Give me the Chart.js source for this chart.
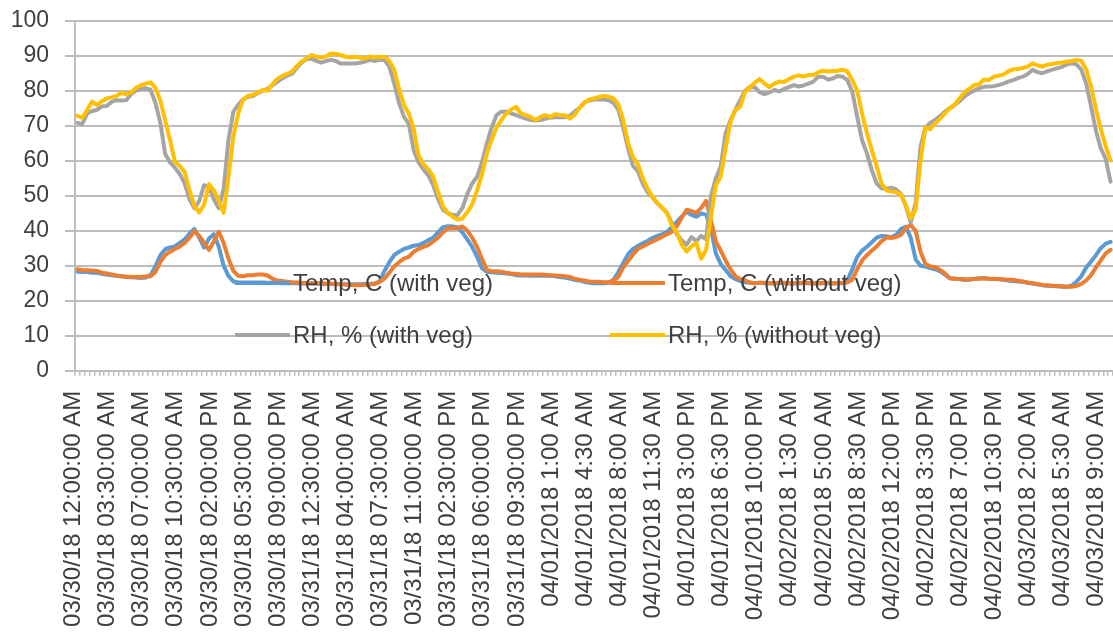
<!DOCTYPE html>
<html><head><meta charset="utf-8">
<script src="https://cdn.jsdelivr.net/npm/chart.js@4.4.0/dist/chart.umd.min.js"></script>
<style>html,body{margin:0;padding:0;background:#fff;} canvas{display:block;}</style>
</head><body>
<canvas id="c" width="1113" height="635"></canvas>
<script>
// ---------- DATA ----------
const tickLabels = [
 '03/30/18 12:00:00 AM','03/30/18 03:30:00 AM','03/30/18 07:00:00 AM','03/30/18 10:30:00 AM',
 '03/30/18 02:00:00 PM','03/30/18 05:30:00 PM','03/30/18 09:00:00 PM','03/31/18 12:30:00 AM',
 '03/31/18 04:00:00 AM','03/31/18 07:30:00 AM','03/31/18 11:00:00 AM','03/31/18 02:30:00 PM',
 '03/31/18 06:00:00 PM','03/31/18 09:30:00 PM','04/01/2018 1:00 AM','04/01/2018 4:30 AM',
 '04/01/2018 8:00 AM','04/01/2018 11:30 AM','04/01/2018 3:00 PM','04/01/2018 6:30 PM',
 '04/01/2018 10:00 PM','04/02/2018 1:30 AM','04/02/2018 5:00 AM','04/02/2018 8:30 AM',
 '04/02/2018 12:00 PM','04/02/2018 3:30 PM','04/02/2018 7:00 PM','04/02/2018 10:30 PM',
 '04/03/2018 2:00 AM','04/03/2018 5:30 AM','04/03/2018 9:00 AM'
];
const labelEvery = 7;

const tempWithVeg = [
 28.3,28.2,28.2,28.0,28.0,27.7,27.5,27.3,27.1,27.0,
 26.8,26.7,26.6,26.5,26.6,27.3,29.8,33.0,34.7,35.2,
 35.5,36.5,37.5,39.2,40.5,38.0,35.2,37.8,39.0,35.5,
 30.0,27.0,25.5,25.2,25.2,25.2,25.2,25.2,25.2,25.1,
 25.1,25.1,25.0,25.0,25.0,25.0,24.9,24.9,24.9,24.9,
 24.8,24.8,24.8,24.8,24.7,24.7,24.7,24.7,24.7,24.8,
 24.8,24.9,25.5,28.5,31.0,33.0,34.0,34.8,35.2,35.7,
 35.9,36.5,37.3,38.0,39.5,41.0,41.3,41.2,40.9,39.5,
 37.5,35.4,32.6,29.3,28.3,28.1,28.0,27.9,27.8,27.6,
 27.3,27.2,27.2,27.1,27.1,27.1,27.1,27.1,27.0,26.8,
 26.6,26.3,26.0,25.8,25.4,25.1,25.0,25.0,25.0,25.1,
 26.0,28.2,30.8,33.3,34.8,35.6,36.4,37.1,37.9,38.5,
 39.0,39.6,41.1,42.5,44.0,45.4,44.5,44.0,44.9,44.6,
 40.5,33.5,30.5,28.8,27.0,26.2,25.6,25.3,25.1,25.0,
 25.1,25.0,25.0,24.9,25.0,25.0,24.9,24.9,25.0,25.0,
 25.0,24.9,24.9,25.0,25.0,24.9,24.9,25.0,25.8,29.0,
 32.5,34.3,35.4,36.7,38.0,38.5,38.4,38.1,38.8,40.5,
 41.1,38.0,31.8,30.0,29.8,29.3,29.0,28.4,27.5,26.4,
 26.3,26.2,25.9,26.0,26.2,26.4,26.5,26.3,26.2,26.1,
 26.0,25.8,25.6,25.5,25.4,25.1,24.9,24.7,24.4,24.3,
 24.2,24.1,24.0,24.0,24.3,25.4,27.0,29.5,31.2,33.0,
 35.0,36.3,36.8
];
const tempWithoutVeg = [
 29.0,28.7,28.7,28.6,28.5,28.0,27.8,27.5,27.2,27.0,
 26.9,26.8,26.8,26.8,26.9,27.0,28.2,31.0,33.0,34.0,
 34.8,35.5,36.5,38.0,39.9,38.5,36.5,34.5,37.0,39.7,
 36.5,32.0,28.5,27.1,27.0,27.3,27.3,27.5,27.5,27.2,
 26.3,25.8,25.6,25.4,25.3,25.2,25.1,25.0,25.0,25.0,
 25.0,24.9,24.9,24.8,24.7,24.6,24.5,24.4,24.5,24.5,
 24.6,24.8,25.4,26.3,28.0,29.8,31.0,32.0,32.5,34.0,
 34.8,35.4,35.9,36.9,38.0,39.5,40.7,40.7,40.8,41.2,
 40.0,38.0,35.4,32.0,28.8,28.4,28.4,28.3,28.0,27.8,
 27.7,27.5,27.5,27.5,27.5,27.5,27.4,27.3,27.2,27.1,
 27.0,26.8,26.3,26.0,25.8,25.5,25.4,25.4,25.3,25.3,
 25.7,26.8,29.5,31.4,33.2,34.8,35.5,36.2,36.9,37.6,
 38.3,39.0,39.7,41.3,43.7,46.0,45.6,45.1,46.5,48.5,
 43.0,37.0,34.3,31.5,29.0,27.0,26.2,25.8,25.2,25.0,
 25.1,25.1,25.0,25.0,25.1,25.1,25.0,25.0,25.1,25.1,
 25.1,25.0,25.0,25.1,25.1,25.0,25.0,25.1,25.2,26.0,
 29.0,31.5,33.0,34.3,35.5,37.0,38.1,37.9,38.2,38.8,
 40.8,41.6,40.0,34.0,30.5,29.8,29.6,28.8,27.8,26.4,
 26.3,26.2,26.1,26.1,26.2,26.3,26.4,26.3,26.3,26.2,
 26.1,26.0,26.0,25.7,25.5,25.2,25.0,24.8,24.5,24.4,
 24.3,24.2,24.1,24.0,24.0,24.2,24.8,25.8,27.3,29.5,
 31.5,33.5,34.5
];
const rhWithVeg = [
 70.8,70.5,73.5,74.2,74.5,75.5,75.6,76.8,77.3,77.2,
 77.3,79.0,80.0,80.5,80.7,80.3,76.5,71.0,62.0,59.5,
 58.0,56.2,53.5,49.0,46.4,48.5,53.0,52.5,49.0,46.4,
 52.0,66.0,74.0,76.0,77.5,78.3,78.5,79.3,80.0,80.5,
 81.5,82.5,83.5,84.3,84.8,86.5,88.0,89.0,89.2,88.5,
 88.0,88.5,88.8,88.5,87.8,87.8,87.8,87.8,88.0,88.3,
 88.8,88.5,88.8,88.8,86.9,82.0,76.5,72.5,70.5,63.0,
 59.5,57.5,55.8,53.0,49.0,46.0,45.0,44.5,44.5,46.5,
 50.5,53.5,55.4,59.5,64.9,69.5,73.0,74.0,74.0,73.5,
 73.0,72.5,72.0,71.6,71.5,71.6,72.0,72.3,72.4,72.5,
 72.4,72.8,74.0,75.0,76.6,77.2,77.5,77.5,77.5,77.3,
 76.5,74.5,69.5,63.5,58.5,57.0,53.5,51.0,49.5,47.8,
 46.5,45.0,42.0,39.0,37.3,36.0,38.2,37.0,38.5,37.5,
 50.0,55.0,58.3,67.8,71.6,74.5,77.3,80.0,81.0,81.0,
 79.5,79.0,79.5,80.2,79.8,80.5,81.0,81.6,81.2,81.5,
 82.0,82.6,84.0,84.0,83.2,83.5,84.2,84.0,83.0,79.7,
 72.6,65.9,62.1,57.3,53.5,52.1,52.0,52.3,51.8,50.5,
 47.0,42.3,48.0,64.0,69.5,70.8,71.6,72.8,74.0,75.0,
 75.9,77.0,78.3,79.3,80.0,80.7,81.1,81.2,81.3,81.6,
 82.0,82.6,83.0,83.6,84.0,84.8,86.0,85.3,85.0,85.5,
 86.0,86.4,86.8,87.5,87.8,87.5,86.0,82.0,75.5,68.5,
 63.5,60.5,54.0
];
const rhWithoutVeg = [
 72.8,72.3,74.5,76.9,75.9,77.0,77.8,78.1,78.5,79.4,
 79.0,79.5,80.8,81.5,82.0,82.4,80.8,77.3,71.6,65.9,
 59.7,58.5,56.8,51.6,47.0,45.2,47.5,53.3,51.5,48.5,
 45.1,55.4,66.9,73.5,77.5,78.5,78.8,79.5,80.2,80.0,
 81.8,83.3,84.2,84.8,85.4,87.0,88.3,89.2,90.2,89.7,
 89.5,89.8,90.6,90.5,90.2,89.7,89.5,89.7,89.4,89.2,
 89.8,89.5,89.6,89.7,88.5,86.0,80.5,76.0,73.5,69.0,
 61.5,59.0,57.5,55.5,51.0,47.0,45.0,44.0,43.2,43.5,
 45.3,47.5,51.5,56.0,62.0,66.0,69.5,71.6,73.5,74.6,
 75.4,73.5,73.0,72.5,71.6,72.5,73.0,72.5,73.3,73.0,
 73.0,72.0,73.0,75.0,76.5,77.5,77.8,78.2,78.5,78.3,
 77.8,76.0,71.5,65.0,61.0,59.0,55.0,52.0,49.7,48.0,
 46.5,45.0,41.5,39.5,36.0,34.0,35.5,36.5,32.0,34.5,
 44.0,53.0,55.5,63.5,71.0,74.5,75.4,79.7,81.0,82.3,
 83.3,82.0,81.0,82.0,82.6,82.5,83.3,84.0,84.4,84.0,
 84.5,84.5,85.3,85.7,85.5,85.6,85.7,86.0,85.5,83.0,
 80.0,73.5,68.0,63.0,58.5,53.5,51.5,51.2,51.0,50.3,
 47.2,43.5,46.0,60.0,69.5,69.0,70.7,72.0,73.5,75.0,
 76.0,77.8,79.5,80.5,81.6,81.8,83.2,83.0,84.0,84.3,
 84.6,85.5,86.1,86.2,86.5,86.9,87.8,87.2,86.9,87.4,
 87.6,87.9,88.0,88.3,88.5,88.8,88.5,86.1,81.2,74.8,
 69.0,64.2,60.0
];
const seriesNames = ['Temp, C (with veg)','Temp, C (without veg)','RH, % (with veg)','RH, % (without veg)'];
const yMin = 0, yMax = 100, yStep = 10;

// categories: one reading every 30 minutes from 03/30/2018 12:00 AM
function fmt(i){
  const d = new Date(Date.UTC(2018,2,30,0,0) + i*30*60000);
  const mm = String(d.getUTCMonth()+1).padStart(2,'0');
  const dd = String(d.getUTCDate()).padStart(2,'0');
  let h = d.getUTCHours(); const ap = h < 12 ? 'AM' : 'PM';
  h = h % 12; if (h === 0) h = 12;
  return mm + '/' + dd + '/2018 ' + h + ':' + String(d.getUTCMinutes()).padStart(2,'0') + ' ' + ap;
}
const categories = tempWithVeg.map((_, i) => fmt(i));

// ---------- STYLE ----------
const colors = ['#5B9BD5','#ED7D31','#A5A5A5','#FFC000'];
const FONT = '"Liberation Sans", Arial, sans-serif';
const gridColor = '#bdbdbd';
const legendPos = [ {x:235,y:283}, {x:610,y:283}, {x:235,y:335}, {x:610,y:335} ];

const legendPlugin = {
  id: 'customLegend',
  afterDatasetsDraw(chart){
    const ctx = chart.ctx;
    ctx.save();
    chart.data.datasets.forEach((ds, k) => {
      const p = legendPos[k];
      ctx.strokeStyle = ds.borderColor;
      ctx.lineWidth = 4;
      ctx.lineCap = 'butt';
      ctx.beginPath(); ctx.moveTo(p.x, p.y); ctx.lineTo(p.x + 55, p.y); ctx.stroke();
      ctx.fillStyle = '#404040';
      ctx.font = '24px ' + FONT;
      ctx.textAlign = 'left';
      ctx.textBaseline = 'alphabetic';
      ctx.fillText(ds.label, p.x + 58, p.y + 8);
    });
    ctx.restore();
  }
};

const seriesData = [tempWithVeg, tempWithoutVeg, rhWithVeg, rhWithoutVeg];
new Chart(document.getElementById('c'), {
  type: 'line',
  data: {
    labels: categories,
    datasets: seriesData.map((d, k) => ({
      label: seriesNames[k], data: d,
      borderColor: colors[k], backgroundColor: colors[k],
      borderWidth: 4, pointRadius: 0, pointHoverRadius: 0, tension: 0,
      borderJoinStyle: 'round', borderCapStyle: 'round', fill: false,
      order: 4 - k
    }))
  },
  options: {
    responsive: false, animation: false, devicePixelRatio: 1,
    layout: { padding: { top: 20.7, right: 0, left: 0, bottom: 0 } },
    plugins: { legend: { display: false }, tooltip: { enabled: false } },
    scales: {
      x: {
        offset: true,
        grid: { display: true, offset: true, drawOnChartArea: false, drawTicks: true, tickLength: 5, color: gridColor, lineWidth: 1.5 },
        border: { display: true, color: gridColor, width: 1.5 },
        ticks: {
          autoSkip: false, maxRotation: 90, minRotation: 90, padding: 15, labelOffset: -4,
          color: '#404040', font: { family: FONT, size: 24 },
          callback: (v, i) => (i % labelEvery === 0 && tickLabels[i / labelEvery] !== undefined) ? tickLabels[i / labelEvery] : ''
        },
        afterFit: s => { s.height = 264.3; s.paddingLeft = 0; s.paddingRight = 0; }
      },
      y: {
        min: yMin, max: yMax,
        grid: { color: gridColor, lineWidth: 2, drawTicks: true, tickLength: 10 },
        border: { display: true, color: gridColor, width: 2 },
        ticks: { stepSize: yStep, padding: 16, color: '#404040', font: { family: FONT, size: 23 } },
        afterFit: s => { s.width = 75; s.paddingTop = 0; s.paddingBottom = 0; }
      }
    }
  },
  plugins: [legendPlugin]
});
</script>
</body></html>
